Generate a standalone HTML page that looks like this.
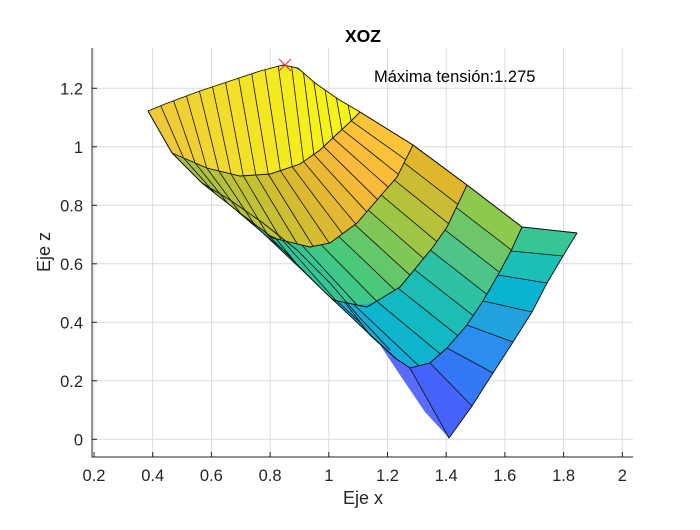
<!DOCTYPE html>
<html><head><meta charset="utf-8"><style>
body{margin:0;background:#fff;}
svg text{font-family:"Liberation Sans",Arial,sans-serif;fill:#262626;}
</style></head><body>
<svg id="s" width="700" height="525" viewBox="0 0 700 525" xmlns="http://www.w3.org/2000/svg">
<rect width="700" height="525" fill="#fff"/>
<g id="grid" stroke="#dcdcdc" stroke-width="1"></g>
<g id="surf"></g>
<g id="axes"></g>
</svg>
<script>
var NS="http://www.w3.org/2000/svg";
function el(p,tag,a,txt){var e=document.createElementNS(NS,tag);for(var k in a)e.setAttribute(k,a[k]);if(txt!==undefined)e.textContent=txt;p.appendChild(e);return e;}
var grid=document.getElementById('grid'),surf=document.getElementById('surf'),axes=document.getElementById('axes');
function X(v){return 94+(v-0.2)*293.5;}
function Y(v){return 439.3-v*292.5;}
for(var i=0;i<=9;i++){var x=X(0.2+i*0.2);el(grid,'line',{x1:x,y1:48,x2:x,y2:457});}
for(var i=0;i<=6;i++){var y=Y(i*0.2);el(grid,'line',{x1:92,y1:y,x2:633,y2:y});}
el(axes,'line',{x1:92,y1:48,x2:92,y2:457.5,stroke:'#262626','stroke-width':1});
el(axes,'line',{x1:91.5,y1:457,x2:633,y2:457,stroke:'#262626','stroke-width':1});
for(var i=0;i<=9;i++){var v=0.2+i*0.2,x=X(v);el(axes,'line',{x1:x,y1:457,x2:x,y2:452,stroke:'#262626'});
 var t=(Math.round(v*10)/10).toString();el(axes,'text',{x:x,y:481,'font-size':16.5,'text-anchor':'middle'},t);}
for(var i=0;i<=6;i++){var v=i*0.2,y=Y(v);el(axes,'line',{x1:92,y1:y,x2:97,y2:y,stroke:'#262626'});
 var t=(Math.round(v*10)/10).toString();el(axes,'text',{x:83,y:y+6,'font-size':16.5,'text-anchor':'end'},t);}
el(axes,'text',{x:363,y:42,'font-size':17.5,'font-weight':'bold','text-anchor':'middle',style:'fill:#000'},'XOZ');
el(axes,'text',{x:363,y:504,'font-size':18,'text-anchor':'middle'},'Eje x');
el(axes,'text',{x:0,y:0,'font-size':18,'text-anchor':'middle',transform:'translate(50,252) rotate(-90)'},'Eje z');
el(axes,'text',{x:374,y:82,'font-size':16.5,style:'fill:#000'},'Máxima tensión:1.275');
el(axes,'path',{d:'M279 59 L291 71 M291 59 L279 71',stroke:'#ff2020','stroke-width':1});

function hex(c){return [parseInt(c.substr(1,2),16),parseInt(c.substr(3,2),16),parseInt(c.substr(5,2),16)];}
function col(stops,t){for(var i=0;i<stops.length-1;i++){var a=stops[i],b=stops[i+1];if(t<=b[1]){var f=(t-a[1])/(b[1]-a[1]||1),ca=hex(a[0]),cb=hex(b[0]);return 'rgb('+[0,1,2].map(function(k){return Math.round(ca[k]+(cb[k]-ca[k])*f)}).join(',')+')';}}return stops[stops.length-1][0];}
function resample(p,n){var L=[0];for(var i=1;i<p.length;i++)L.push(L[i-1]+Math.hypot(p[i][0]-p[i-1][0],p[i][1]-p[i-1][1]));var T=L[L.length-1],out=[];
 for(var k=0;k<=n;k++){var d=T*k/n,j=1;while(j<p.length-1&&L[j]<d)j++;var f=(d-L[j-1])/((L[j]-L[j-1])||1);out.push([p[j-1][0]+(p[j][0]-p[j-1][0])*f,p[j-1][1]+(p[j][1]-p[j-1][1])*f]);}return out;}
function band(top,bot,n,stops){var a=resample(top,n),b=resample(bot,n);
 for(var i=0;i<n;i++){var pts=[a[i],a[i+1],b[i+1],b[i]];var c=col(stops,i/(n-1));el(surf,'polygon',{points:pts.map(function(q){return q.join(',')}).join(' '),fill:c,stroke:c,'stroke-width':0.8});}
 for(var i=0;i<=n;i++)el(surf,'line',{x1:a[i][0],y1:a[i][1],x2:b[i][0],y2:b[i][1],stroke:'#111','stroke-width':0.8});
 el(surf,'polyline',{points:top.map(function(q){return q.join(',')}).join(' '),fill:'none',stroke:'#111','stroke-width':0.9});
 el(surf,'polyline',{points:bot.map(function(q){return q.join(',')}).join(' '),fill:'none',stroke:'#111','stroke-width':0.9});}
var R0=[[148,111],[165,104],[197,92],[230,81],[260,71],[283,65],[298,68],[315,83],[338,99],[360,112]];
var R1=[[172,153],[207,168],[240,176],[270,174],[300,164],[320,150],[337,134],[350,122],[360,112]];
var R2=[[202,183],[240,213],[273,238],[310,247],[330,243],[357,223],[383,193],[397,177],[413,145]];
var R3=[[263,223],[300,268],[333,300],[367,307],[400,287],[433,247],[447,227],[467,185]];
var R4=[[330,283],[370,335],[395,358],[410,368],[430,363],[447,348],[467,325],[483,301],[498,275],[511,251],[522,227]];
// underlay
el(surf,'polygon',{points:R0.map(function(q){return q.join(',')}).join(' ')+' 413,145 467,185 522,227 577,233 449,438 433,410 410,372 390,350 360,318 330,283 297,250 263,223 230,200 202,183 172,153',fill:'#1fa6dc',stroke:'none'});
el(surf,'polygon',{points:'330,283 360,318 390,350 410,372 433,410 449,438 410,368 395,358 370,335',fill:'#4a66fb',stroke:'#4a66fb'});
el(surf,'polygon',{points:'380,345 410,370 433,410 449,438 425,412 400,375',fill:'#5a6cff',stroke:'none'});
band(R3,R4,12,[['#2597e3',0],['#17a9dc',0.3],['#0bb8c9',0.5],['#25c0ad',0.7],['#8ec94f',1]]);
band(R2,R3,14,[['#22bcb0',0],['#2ec59a',0.35],['#4cc979',0.55],['#a8c63e',0.8],['#e0b62d',1]]);
band(R1,R2,17,[['#a5c13f',0],['#c3c133',0.35],['#dfb92f',0.6],['#f9b93c',0.8],['#fbc437',1]]);
band(R0,R1,17,[['#efc93a',0],['#f2dc2a',0.3],['#f6f01a',0.7],['#f4f51a',1]]);
var L=[[522,227],[511,251],[498,275],[483,301],[467,325],[447,348],[430,363],[410,368]];
var Rr=[[577,233],[563,256],[547,283],[532,312],[513,342],[493,373],[472,406],[449,438]];
var cc=['#37c593','#1cbfb6','#0ab4d1','#22a3e0','#2b8dee','#3578f7','#4563fb'];
for(var i=0;i<7;i++){var pts=[L[i],Rr[i],Rr[i+1],L[i+1]];el(surf,'polygon',{points:pts.map(function(q){return q.join(',')}).join(' '),fill:cc[i],stroke:cc[i],'stroke-width':0.8});}
for(var i=0;i<8;i++)el(surf,'line',{x1:L[i][0],y1:L[i][1],x2:Rr[i][0],y2:Rr[i][1],stroke:'#111','stroke-width':0.8});
el(surf,'polyline',{points:Rr.map(function(q){return q.join(',')}).join(' '),fill:'none',stroke:'#111','stroke-width':0.9});
el(surf,'polyline',{points:L.map(function(q){return q.join(',')}).join(' '),fill:'none',stroke:'#111','stroke-width':0.9});
el(surf,'polyline',{points:'148,111 172,153 202,183 230,200 263,223 297,250 330,283 360,318 390,350',fill:'none',stroke:'#111','stroke-width':0.9});
el(surf,'polyline',{points:'360,112 413,145 467,185 522,227 577,233',fill:'none',stroke:'#111','stroke-width':0.9});
</script>
</body></html>
